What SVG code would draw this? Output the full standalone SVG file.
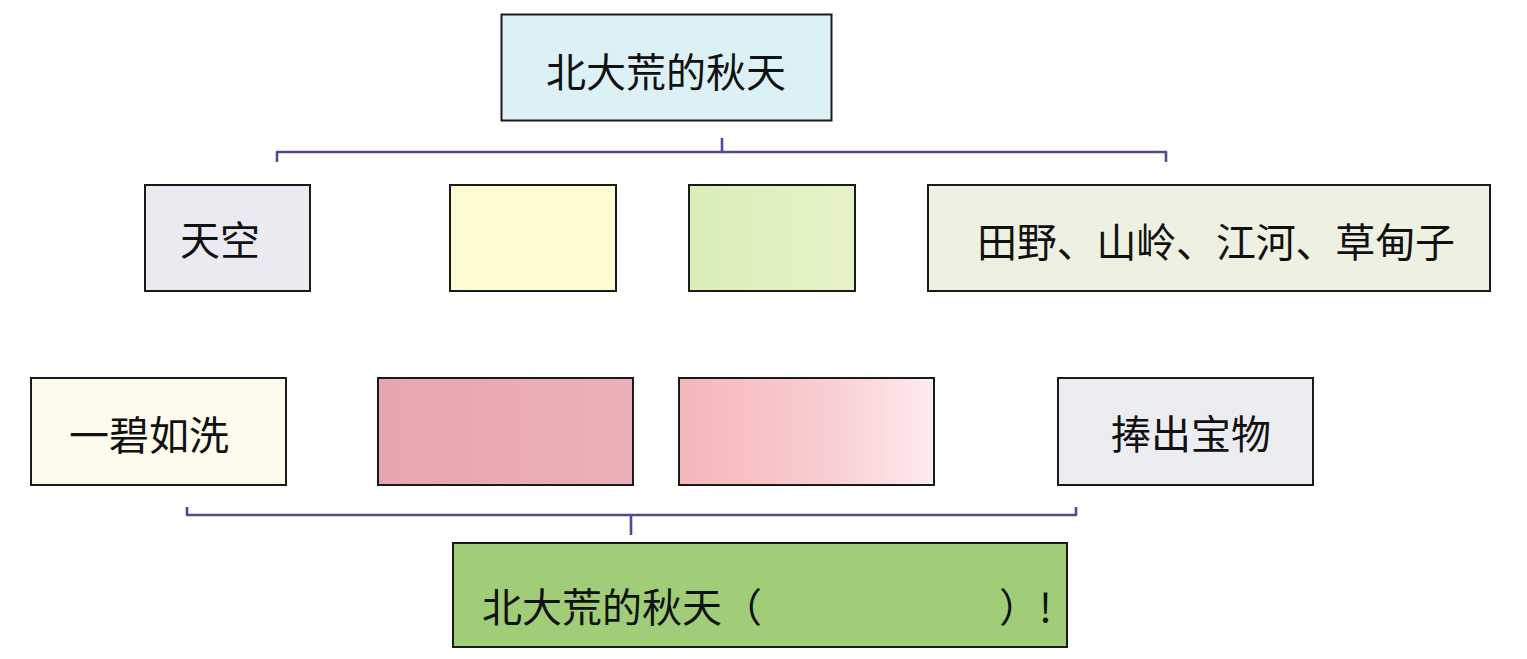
<svg xmlns="http://www.w3.org/2000/svg" width="1527" height="659" viewBox="0 0 1527 659">
<style>
.box{stroke:#1a1a1a;stroke-width:2}
.t{font-family:"Noto Sans CJK SC","Noto Sans",sans-serif;font-size:40px;fill:#111;dominant-baseline:central}
.c{stroke:#54479a;stroke-width:2.6;fill:none;stroke-linejoin:round}
</style>
<defs>
<linearGradient id="gGreen" x1="0" y1="0" x2="1" y2="0"><stop offset="0" stop-color="#d9eeb6"/><stop offset="1" stop-color="#e6f3c8"/></linearGradient>
<linearGradient id="gPink2" x1="0" y1="0" x2="1" y2="0"><stop offset="0" stop-color="#f5b6b8"/><stop offset="0.6" stop-color="#f9cfd3"/><stop offset="1" stop-color="#fdecee"/></linearGradient>
<linearGradient id="gPink1" x1="0" y1="0" x2="1" y2="0"><stop offset="0" stop-color="#e7a5b0"/><stop offset="1" stop-color="#ecb0b8"/></linearGradient>
</defs>
<rect width="1527" height="659" fill="#ffffff"/>
<g id="connectors">
<path class="c" d="M277,162 V152 H1166 V162"/>
<path class="c" d="M722,138 V152"/>
<path class="c" d="M187,507 V515 H1076 V507"/>
<path class="c" d="M631,515 V535"/>
</g>
<g id="n-top"><rect class="box" x="501.5" y="14.5" width="330" height="106" fill="#dcf1f6"/><text class="t" x="666" y="70" text-anchor="middle">北大荒的秋天</text></g>
<g id="n-sky"><rect class="box" x="145" y="185" width="165" height="106" fill="#ebeaf0"/><text class="t" x="220" y="238" text-anchor="middle">天空</text></g>
<g id="n-yellow"><rect class="box" x="450" y="185" width="166" height="106" fill="#fdfbd2"/></g>
<g id="n-green"><rect class="box" x="689" y="185" width="166" height="106" fill="url(#gGreen)"/></g>
<g id="n-fields"><rect class="box" x="928" y="185" width="562" height="106" fill="#eef1e2"/><text class="t" x="1216" y="240" text-anchor="middle" textLength="478" lengthAdjust="spacing">田野、山岭、江河、草甸子</text></g>
<g id="n-blue"><rect class="box" x="31" y="378" width="255" height="107" fill="#fdfbec"/><text class="t" x="149" y="433" text-anchor="middle">一碧如洗</text></g>
<g id="n-pink1"><rect class="box" x="378" y="378" width="255" height="107" fill="url(#gPink1)"/></g>
<g id="n-pink2"><rect class="box" x="679" y="378" width="255" height="107" fill="url(#gPink2)"/></g>
<g id="n-treasure"><rect class="box" x="1058" y="378" width="255" height="107" fill="#ecedf1"/><text class="t" x="1191" y="432" text-anchor="middle">捧出宝物</text></g>
<g id="n-bottom"><rect class="box" x="453" y="543" width="614" height="104" fill="#a2cd78"/><text class="t" y="605"><tspan x="482">北大荒的秋天（</tspan><tspan x="999">）!</tspan></text></g>
</svg>
